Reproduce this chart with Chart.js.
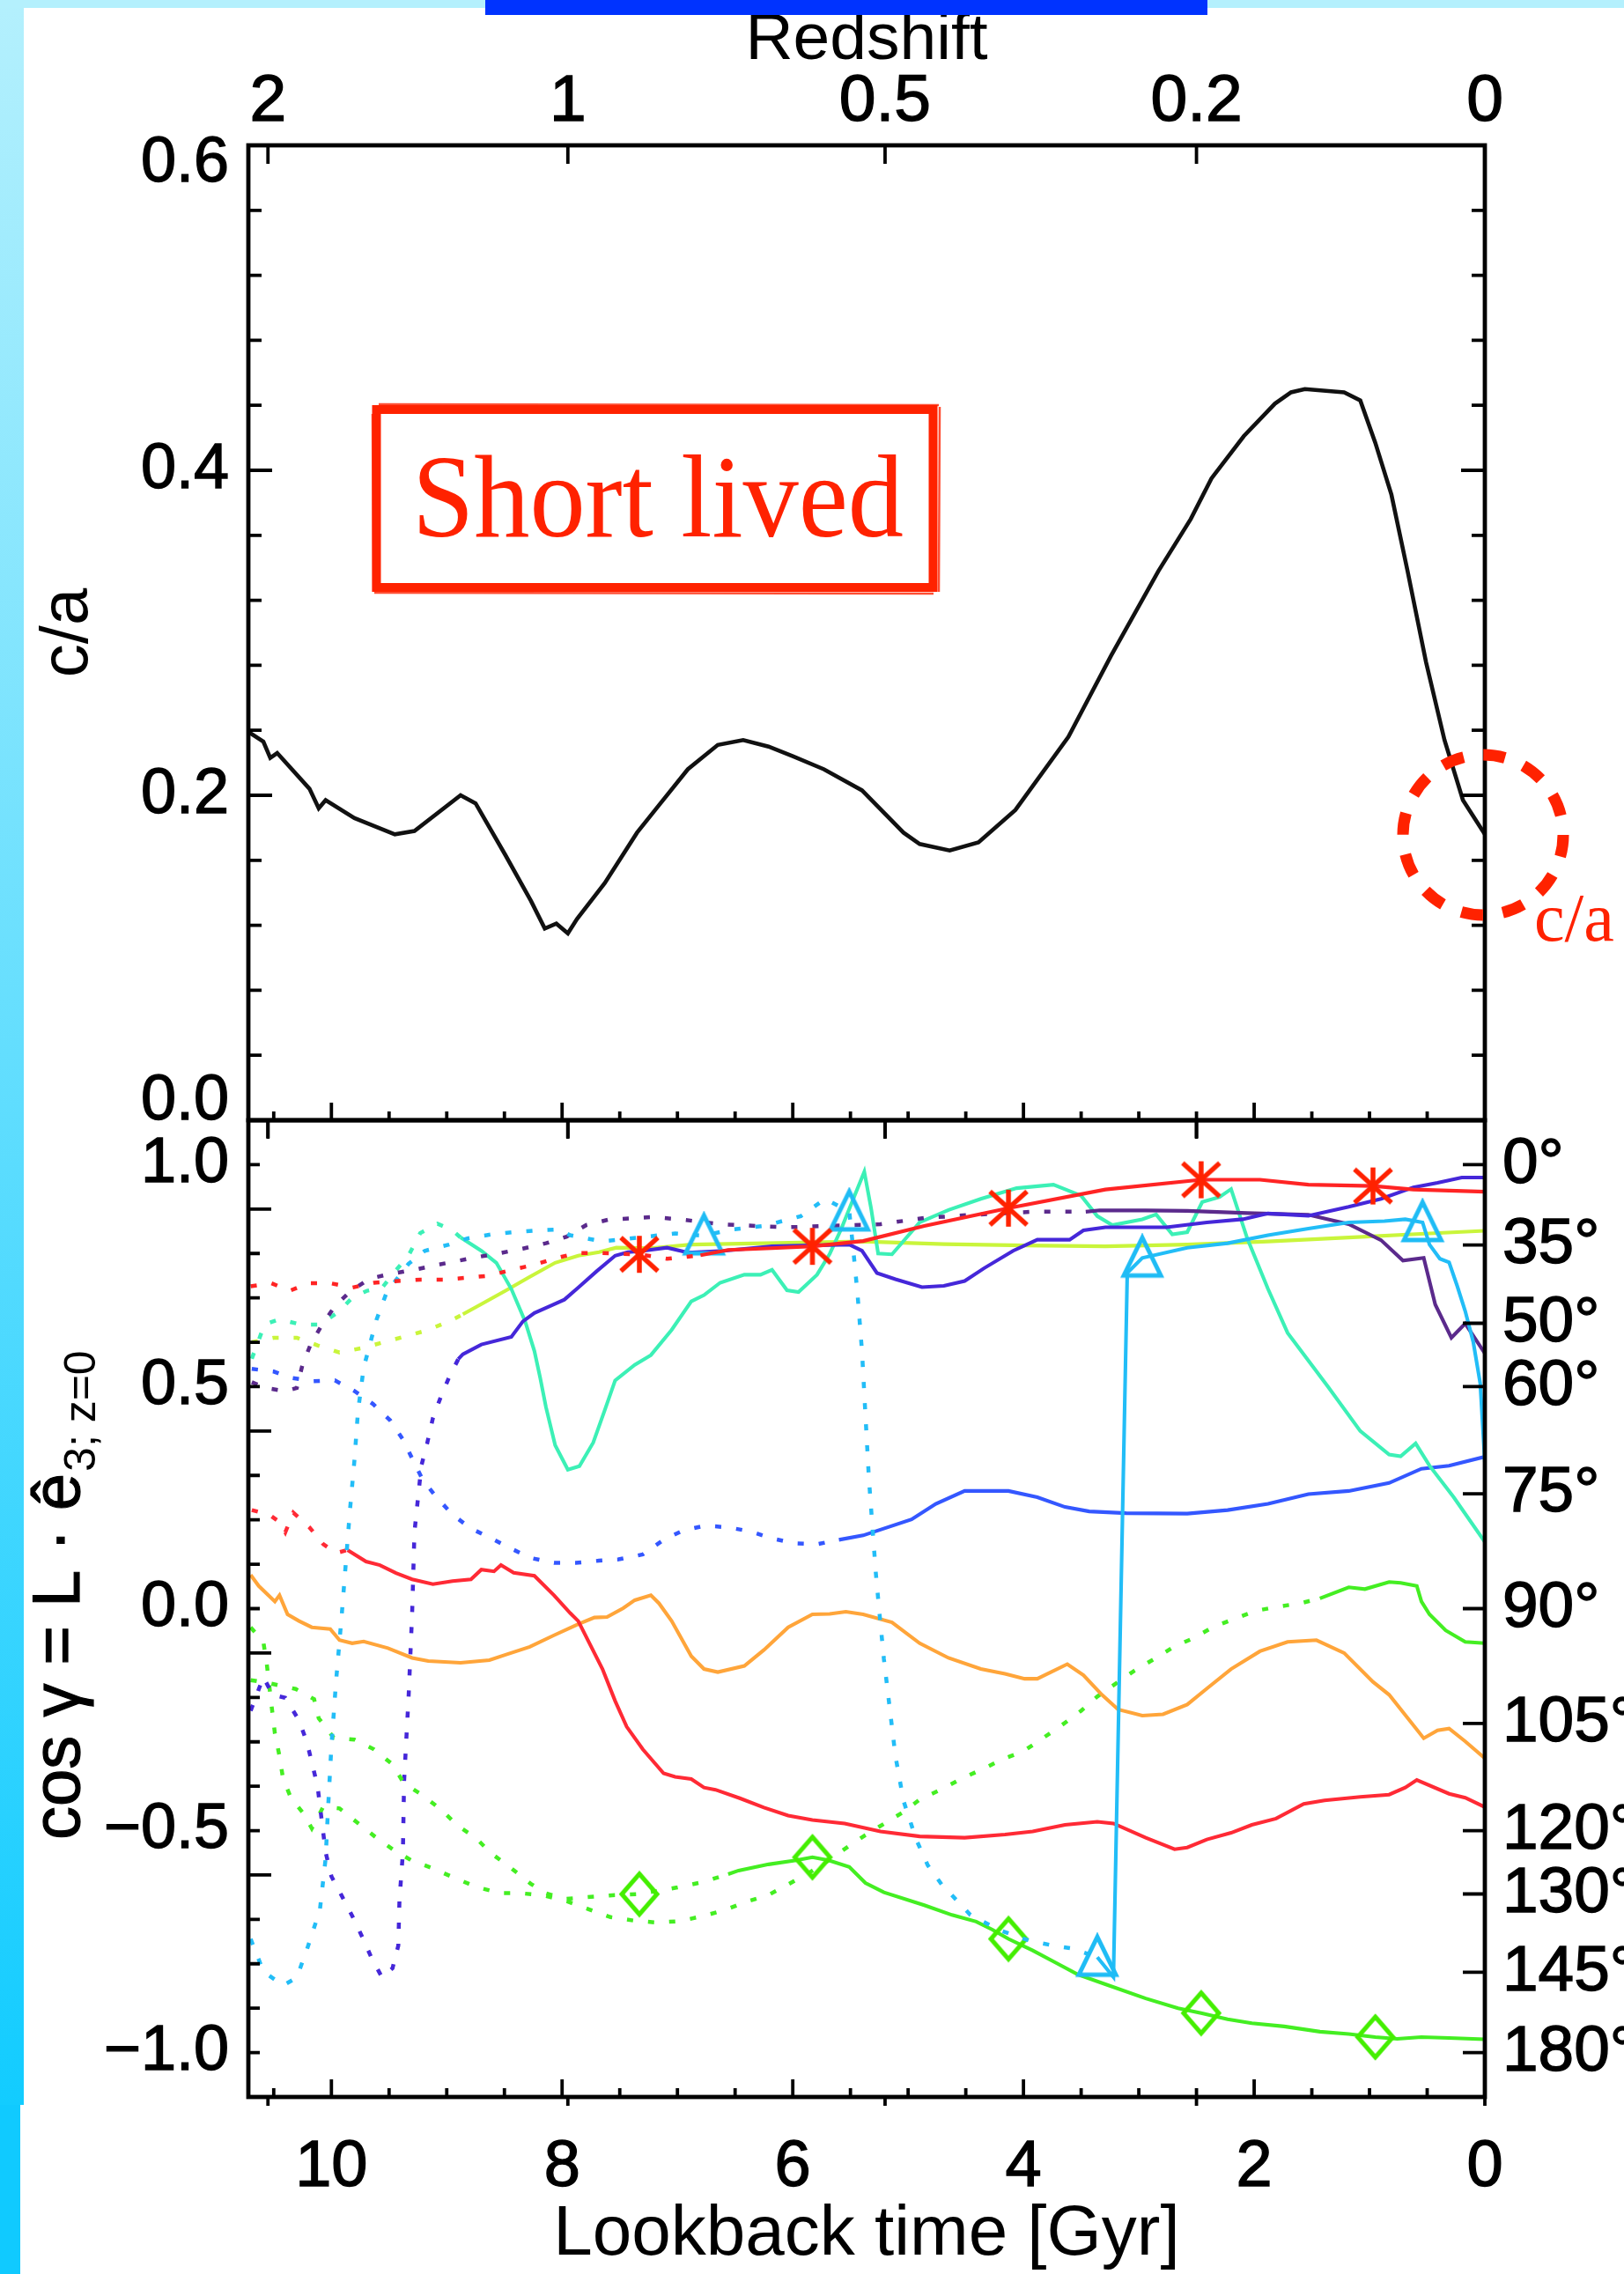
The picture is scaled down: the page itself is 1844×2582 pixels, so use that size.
<!DOCTYPE html>
<html>
<head>
<meta charset="utf-8">
<script src="https://cdn.jsdelivr.net/npm/chart.js@4.4.1/dist/chart.umd.min.js"></script>
<style>
  html, body { margin: 0; padding: 0; background: #fff; }
  #page { position: relative; width: 1844px; height: 2582px; overflow: hidden; background: #fff; }
  #page canvas { position: absolute; left: 0; top: 0; z-index: 1; }
  .edge-left { position: absolute; left: 0; top: 0; width: 27px; height: 2390px; background: linear-gradient(#b4f0fd, #12ccff); z-index: 2; }
  .edge-left-low { position: absolute; left: 0; top: 2390px; width: 23px; height: 192px; background: #10caff; z-index: 2; }
  .edge-top { position: absolute; left: 0; top: 0; width: 1844px; height: 9px; background: #b4f0fd; z-index: 2; }
  .title-bar { position: absolute; left: 551px; top: 0; width: 820px; height: 17px; background: #0033ff; z-index: 3; }
</style>
</head>
<body>
<div id="page">
  <canvas id="shape" width="1844" height="2582"></canvas>
  <canvas id="spin" width="1844" height="2582"></canvas>
  <div class="edge-left"></div>
  <div class="edge-left-low"></div>
  <div class="edge-top"></div>
  <div class="title-bar"></div>
</div>
<script>
// ---- axes ----
const T_MAX = 10.72;                              // lookback time at the left edge [Gyr]
const lookbackTicks = [0, 2, 4, 6, 8, 10];
const redshiftLabels = ['2', '1', '0.5', '0.2', '0'];
const redshiftAt = [10.55, 7.95, 5.20, 2.50, 0];  // lookback time of each redshift tick
const caTicks = [0, 0.2, 0.4, 0.6];
const cosTicks = [-1, -0.5, 0, 0.5, 1];
const angleTicks = [0, 35, 50, 60, 75, 90, 105, 120, 130, 145, 180];

// ---- top panel: axis ratio c/a ----
const caTime = [10.72, 10.59, 10.53, 10.47, 10.19, 10.11, 10.05, 9.80, 9.45, 9.28, 8.88, 8.75, 8.49, 8.27,
  8.15, 8.05, 7.95, 7.87, 7.63, 7.35, 7.17, 6.91, 6.65, 6.43, 6.21, 6.00, 5.73, 5.40, 5.04, 4.90, 4.64,
  4.39, 4.07, 3.61, 3.24, 2.83, 2.55, 2.37, 2.09, 1.82, 1.68, 1.56, 1.22, 1.08, 0.95, 0.81, 0.67, 0.51,
  0.35, 0.19, 0.00];
const caRatio = [0.239, 0.233, 0.223, 0.226, 0.204, 0.192, 0.197, 0.186, 0.176, 0.178, 0.200, 0.195, 0.163,
  0.135, 0.118, 0.121, 0.115, 0.124, 0.146, 0.177, 0.193, 0.216, 0.231, 0.234, 0.230, 0.224, 0.216, 0.203,
  0.177, 0.170, 0.166, 0.171, 0.191, 0.236, 0.286, 0.338, 0.370, 0.395, 0.421, 0.441, 0.448, 0.450, 0.448,
  0.443, 0.417, 0.385, 0.338, 0.282, 0.234, 0.197, 0.176];

// ---- bottom panel: cos gamma, [lookback, value] ----
const redUpper = [[10.70,0.726],[10.52,0.733],[10.36,0.716],[10.20,0.733],[10.01,0.733],[9.82,0.723],[9.63,0.734],
  [9.42,0.738],[9.23,0.741],[9.03,0.741],[8.84,0.745],[8.63,0.750],[8.44,0.763],[8.25,0.774],[8.06,0.789],
  [7.87,0.801],[7.68,0.801],[7.33,0.798],[7.09,0.788],[6.80,0.796],[6.56,0.808],[6.18,0.812],[5.83,0.816],
  [5.39,0.828],[4.86,0.862],[4.13,0.902],[3.29,0.944],[2.46,0.966],[1.95,0.966],[1.53,0.955],[0.97,0.952],
  [0.62,0.944],[0.00,0.939]];
const redUpperMarks = [7.33, 5.83, 4.13, 2.46, 0.97];

const purple = [[10.69,0.510],[10.57,0.497],[10.40,0.490],[10.30,0.497],[10.25,0.550],[10.18,0.595],[10.08,0.640],
  [9.97,0.681],[9.83,0.716],[9.67,0.743],[9.49,0.754],[9.28,0.763],[9.09,0.774],[8.91,0.783],[8.71,0.793],
  [8.53,0.801],[8.34,0.811],[8.14,0.823],[7.96,0.838],[7.79,0.864],[7.60,0.876],[7.21,0.882],[6.95,0.876],
  [6.63,0.866],[6.32,0.862],[6.04,0.859],[5.24,0.866],[4.86,0.880],[4.44,0.887],[3.92,0.894],[3.46,0.894],
  [3.34,0.897],[2.94,0.897],[2.58,0.896],[2.06,0.891],[1.53,0.887],[1.18,0.866],[0.90,0.830],[0.71,0.784],
  [0.53,0.790],[0.43,0.685],[0.29,0.610],[0.17,0.642],[0.00,0.575]];

const violet = [[10.70,-0.230],[10.59,-0.154],[10.51,-0.194],[10.40,-0.201],[10.28,-0.252],[10.21,-0.303],
  [10.12,-0.400],[10.05,-0.549],[10.00,-0.603],[9.91,-0.647],[9.81,-0.697],[9.73,-0.741],[9.65,-0.788],
  [9.56,-0.831],[9.47,-0.810],[9.42,-0.759],[9.41,-0.657],[9.38,-0.549],[9.37,-0.390],[9.33,-0.194],
  [9.30,-0.010],[9.28,0.172],[9.26,0.222],[9.22,0.322],[9.17,0.372],[9.12,0.429],[9.05,0.478],[8.98,0.521],
  [8.90,0.562],[8.86,0.573],[8.70,0.595],[8.44,0.612],[8.34,0.647],[8.24,0.666],[8.09,0.683],[7.98,0.696],
  [7.86,0.723],[7.70,0.760],[7.54,0.795],[7.43,0.803],[7.33,0.805],[7.09,0.813],[6.91,0.802],[6.60,0.806],
  [6.18,0.816],[5.51,0.820],[5.40,0.806],[5.27,0.756],[5.11,0.742],[4.88,0.724],[4.69,0.727],[4.51,0.738],
  [4.34,0.767],[4.09,0.806],[3.88,0.831],[3.60,0.831],[3.48,0.852],[3.29,0.859],[2.76,0.859],[2.41,0.870],
  [2.10,0.877],[1.88,0.890],[1.53,0.885],[1.18,0.905],[0.90,0.923],[0.62,0.949],[0.41,0.959],[0.20,0.971],
  [0.00,0.971]];

const lime = [[10.69,0.600],[10.50,0.610],[10.30,0.610],[10.12,0.593],[9.93,0.577],[9.73,0.587],[9.55,0.600],
  [9.36,0.613],[9.17,0.627],[8.98,0.647],[8.86,0.663],[8.70,0.686],[8.49,0.716],[8.29,0.746],[8.06,0.779],
  [7.86,0.795],[7.68,0.803],[7.53,0.813],[7.23,0.812],[6.88,0.820],[5.39,0.827],[4.69,0.821],[3.99,0.818],
  [3.29,0.816],[2.58,0.820],[1.88,0.827],[1.18,0.836],[0.48,0.845],[0.00,0.851]];

const aqua = [[10.69,0.563],[10.58,0.640],[10.45,0.652],[10.27,0.640],[10.10,0.640],[9.94,0.668],[9.82,0.700],
  [9.69,0.716],[9.56,0.723],[9.46,0.756],[9.33,0.796],[9.23,0.846],[9.08,0.867],[8.95,0.852],[8.88,0.836],
  [8.70,0.806],[8.57,0.779],[8.44,0.720],[8.32,0.647],[8.24,0.580],[8.19,0.520],[8.14,0.454],[8.06,0.368],
  [7.95,0.313],[7.85,0.321],[7.73,0.374],[7.63,0.447],[7.54,0.514],[7.37,0.549],[7.23,0.571],[7.05,0.628],
  [6.88,0.692],[6.77,0.706],[6.63,0.734],[6.42,0.752],[6.28,0.752],[6.18,0.763],[6.05,0.717],[5.95,0.713],
  [5.79,0.752],[5.68,0.799],[5.58,0.855],[5.48,0.920],[5.38,0.984],[5.32,0.900],[5.26,0.800],[5.14,0.798],
  [4.90,0.870],[4.65,0.898],[4.37,0.923],[4.06,0.947],[3.74,0.955],[3.50,0.930],[3.36,0.884],[3.23,0.864],
  [2.97,0.877],[2.85,0.888],[2.71,0.843],[2.58,0.848],[2.45,0.916],[2.30,0.927],[2.20,0.945],[2.06,0.834],
  [1.88,0.720],[1.71,0.621],[1.36,0.500],[1.08,0.400],[0.83,0.347],[0.73,0.343],[0.60,0.372],[0.48,0.322],
  [0.27,0.251],[0.00,0.150]];

const cyan = [[10.70,-0.744],[10.59,-0.817],[10.42,-0.849],[10.30,-0.831],[10.21,-0.766],[10.10,-0.679],
  [10.05,-0.563],[10.03,-0.455],[10.00,-0.310],[9.96,-0.165],[9.91,-0.013],[9.84,0.219],[9.80,0.335],
  [9.77,0.443],[9.72,0.543],[9.61,0.650],[9.52,0.713],[9.33,0.777],[9.19,0.806],[8.98,0.820],[8.82,0.834],
  [8.61,0.843],[8.42,0.848],[8.21,0.852],[8.03,0.854],[7.93,0.841],[7.65,0.827],[7.26,0.838],[7.02,0.845],
  [6.77,0.840],[6.53,0.854],[6.25,0.862],[5.93,0.884],[5.72,0.923],[5.51,0.894],[5.48,0.820],[5.44,0.713],
  [5.40,0.580],[5.37,0.436],[5.34,0.293],[5.28,0.080],[5.25,-0.006],[5.21,-0.114],[5.16,-0.223],[5.11,-0.332],
  [5.04,-0.433],[4.93,-0.520],[4.83,-0.578],[4.71,-0.621],[4.55,-0.665],[4.46,-0.690],[4.20,-0.725],
  [3.95,-0.748],[3.74,-0.759],[3.57,-0.766],[3.36,-0.785],[3.22,-0.830],[3.10,0.756],[2.97,0.790],
  [2.58,0.813],[2.23,0.823],[1.88,0.841],[1.53,0.856],[1.18,0.870],[0.87,0.873],[0.69,0.877],[0.54,0.870],
  [0.48,0.820],[0.39,0.788],[0.31,0.780],[0.24,0.727],[0.17,0.670],[0.10,0.600],[0.04,0.507],[0.00,0.330]];
const cyanMarks = [6.77, 5.51, 3.36, 2.97, 0.54];

const blue = [[10.69,0.540],[10.50,0.534],[10.35,0.520],[10.16,0.512],[9.97,0.514],[9.80,0.490],[9.64,0.461],
  [9.49,0.424],[9.38,0.381],[9.30,0.338],[9.21,0.291],[9.09,0.251],[8.95,0.212],[8.80,0.182],[8.62,0.159],
  [8.44,0.135],[8.27,0.114],[8.07,0.103],[7.88,0.103],[7.68,0.108],[7.51,0.111],[7.30,0.122],[7.12,0.155],
  [6.95,0.176],[6.76,0.187],[6.56,0.183],[6.37,0.174],[6.18,0.158],[5.98,0.147],[5.79,0.145],[5.60,0.155],
  [5.39,0.165],[4.97,0.201],[4.76,0.236],[4.51,0.265],[4.13,0.265],[3.88,0.251],[3.64,0.229],[3.43,0.219],
  [3.11,0.215],[2.58,0.214],[2.23,0.222],[1.88,0.236],[1.53,0.258],[1.18,0.265],[0.83,0.283],[0.55,0.315],
  [0.31,0.322],[0.00,0.342]];

const redLower = [[10.69,0.222],[10.54,0.212],[10.45,0.195],[10.40,0.172],[10.33,0.216],[10.19,0.183],
  [10.07,0.145],[9.96,0.125],[9.86,0.132],[9.70,0.106],[9.58,0.098],[9.44,0.080],[9.30,0.066],[9.12,0.055],
  [8.95,0.062],[8.79,0.066],[8.70,0.088],[8.59,0.084],[8.53,0.098],[8.42,0.081],[8.24,0.074],[8.07,0.030],
  [7.93,-0.010],[7.86,-0.028],[7.65,-0.136],[7.54,-0.208],[7.44,-0.266],[7.30,-0.317],[7.12,-0.371],
  [7.02,-0.379],[6.88,-0.384],[6.77,-0.403],[6.67,-0.408],[6.46,-0.427],[6.25,-0.448],[6.04,-0.466],
  [5.83,-0.476],[5.55,-0.484],[5.24,-0.502],[4.90,-0.513],[4.51,-0.516],[4.16,-0.509],[3.92,-0.502],
  [3.64,-0.487],[3.36,-0.480],[3.22,-0.484],[2.94,-0.516],[2.69,-0.542],[2.58,-0.538],[2.41,-0.520],
  [2.20,-0.505],[2.02,-0.487],[1.81,-0.473],[1.57,-0.440],[1.39,-0.432],[1.08,-0.424],[0.83,-0.419],
  [0.69,-0.403],[0.59,-0.386],[0.31,-0.417],[0.17,-0.426],[0.00,-0.447]];

const orange = [[10.70,0.076],[10.63,0.051],[10.49,0.016],[10.45,0.030],[10.38,-0.013],[10.28,-0.028],
  [10.17,-0.042],[10.01,-0.046],[9.93,-0.071],[9.82,-0.078],[9.72,-0.074],[9.51,-0.089],[9.30,-0.111],
  [9.16,-0.118],[8.88,-0.122],[8.63,-0.116],[8.49,-0.104],[8.28,-0.086],[8.07,-0.060],[7.86,-0.035],
  [7.72,-0.020],[7.61,-0.019],[7.47,0.001],[7.37,0.019],[7.23,0.030],[7.16,0.012],[7.05,-0.028],
  [6.88,-0.107],[6.77,-0.136],[6.65,-0.143],[6.42,-0.129],[6.25,-0.093],[6.04,-0.042],[5.83,-0.013],
  [5.68,-0.012],[5.54,-0.007],[5.39,-0.013],[5.14,-0.031],[4.90,-0.078],[4.65,-0.111],[4.37,-0.136],
  [4.16,-0.147],[3.99,-0.158],[3.88,-0.158],[3.62,-0.125],[3.48,-0.150],[3.32,-0.194],[3.18,-0.227],
  [2.97,-0.241],[2.79,-0.238],[2.58,-0.216],[2.41,-0.180],[2.20,-0.136],[1.95,-0.096],[1.71,-0.075],
  [1.46,-0.071],[1.22,-0.100],[0.97,-0.165],[0.83,-0.194],[0.53,-0.292],[0.41,-0.274],[0.31,-0.270],
  [0.17,-0.299],[0.00,-0.337]];

const greenUpper = [[10.70,-0.161],[10.52,-0.169],[10.31,-0.181],[10.15,-0.204],[10.11,-0.247],[9.98,-0.291],
  [9.80,-0.295],[9.63,-0.317],[9.47,-0.351],[9.37,-0.394],[9.21,-0.420],[9.04,-0.455],[8.90,-0.490],
  [8.75,-0.516],[8.62,-0.550],[8.44,-0.585],[8.27,-0.620],[8.14,-0.641],[7.98,-0.654],[7.79,-0.650],
  [7.59,-0.646],[7.33,-0.643],[7.00,-0.628],[6.78,-0.616],[6.56,-0.598],[6.47,-0.590],[6.21,-0.576],
  [5.97,-0.567],[5.83,-0.560],[5.69,-0.567],[5.51,-0.582],[5.37,-0.618],[5.21,-0.639],[4.86,-0.668],
  [4.62,-0.690],[4.41,-0.705],[4.27,-0.723],[4.13,-0.744],[3.92,-0.770],[3.71,-0.799],[3.53,-0.824],
  [3.29,-0.846],[2.94,-0.878],[2.66,-0.900],[2.46,-0.911],[2.23,-0.925],[2.02,-0.934],[1.74,-0.941],
  [1.43,-0.953],[1.18,-0.958],[0.95,-0.965],[0.76,-0.969],[0.55,-0.965],[0.31,-0.967],[0.00,-0.970]];
const greenUpperMarks = [7.33, 5.83, 4.13, 2.46, 0.95];

const greenLower = [[10.70,-0.042],[10.59,-0.075],[10.56,-0.125],[10.52,-0.216],[10.49,-0.281],[10.45,-0.332],
  [10.42,-0.382],[10.35,-0.427],[10.24,-0.462],[10.17,-0.495],[10.07,-0.446],[9.93,-0.450],[9.78,-0.481],
  [9.63,-0.512],[9.47,-0.542],[9.30,-0.568],[9.12,-0.585],[8.93,-0.607],[8.73,-0.628],[8.53,-0.641],
  [8.36,-0.641],[8.16,-0.646],[7.96,-0.659],[7.77,-0.677],[7.58,-0.695],[7.37,-0.703],[7.18,-0.707],
  [6.98,-0.704],[6.77,-0.692],[6.58,-0.678],[6.40,-0.660],[6.21,-0.645],[6.04,-0.621],[5.84,-0.592],
  [5.69,-0.567],[5.51,-0.534],[5.37,-0.510],[5.25,-0.491],[5.04,-0.458],[4.90,-0.430],[4.72,-0.408],
  [4.53,-0.382],[4.35,-0.361],[4.18,-0.339],[4.00,-0.321],[3.85,-0.295],[3.67,-0.263],[3.50,-0.230],
  [3.36,-0.198],[3.20,-0.169],[3.04,-0.140],[2.87,-0.114],[2.69,-0.085],[2.53,-0.067],[2.36,-0.042],
  [2.18,-0.024],[1.99,-0.005],[1.78,0.005],[1.60,0.012],[1.43,0.023],[1.18,0.048],[1.04,0.044],[0.83,0.060],
  [0.73,0.058],[0.59,0.051],[0.55,0.016],[0.48,-0.013],[0.34,-0.049],[0.17,-0.075],[0.00,-0.078]];

const SANS = '"Liberation Sans", Arial, Helvetica, sans-serif';
const SERIF = '"Liberation Serif", "Times New Roman", serif';
const RED_NOTE = '#ff2200';

// open plot symbols, drawn once and handed to Chart.js as point styles
function symbol(size, draw) {
  const c = document.createElement('canvas');
  c.width = size; c.height = size;
  const g = c.getContext('2d');
  draw(g, size / 2);
  return c;
}
const asterisk = symbol(52, (g, c) => {
  g.strokeStyle = '#ff2200'; g.lineWidth = 5.5; g.beginPath();
  g.moveTo(c, c - 21); g.lineTo(c, c + 21);
  g.moveTo(c - 21, c - 19); g.lineTo(c + 21, c + 19);
  g.moveTo(c + 21, c - 19); g.lineTo(c - 21, c + 19);
  g.stroke();
});
const triangle = symbol(56, (g, c) => {
  g.strokeStyle = '#1fbcf5'; g.lineWidth = 5; g.lineJoin = 'miter'; g.beginPath();
  g.moveTo(c, c - 23); g.lineTo(c + 21, c + 20); g.lineTo(c - 21, c + 20); g.closePath(); g.stroke();
});
const diamond = symbol(56, (g, c) => {
  g.strokeStyle = '#44ee00'; g.lineWidth = 5; g.beginPath();
  g.moveTo(c, c - 23); g.lineTo(c + 20, c); g.lineTo(c, c + 23); g.lineTo(c - 20, c); g.closePath(); g.stroke();
});

// one track: dotted while the lookback time is at or above dottedFrom
function track(points, color, dottedFrom, marks, style) {
  const dotted = ctx => ctx.p1.parsed.x >= dottedFrom - 1e-6;
  return {
    data: points.map(([x, y]) => ({ x, y })),
    xAxisID: 'x', yAxisID: 'y',
    borderColor: color, borderWidth: 4.1, tension: 0, borderCapStyle: 'butt',
    pointStyle: style || 'circle',
    pointRadius: ctx => (marks && ctx.raw && marks.includes(ctx.raw.x)) ? 22 : 0,
    pointHoverRadius: ctx => (marks && ctx.raw && marks.includes(ctx.raw.x)) ? 22 : 0,
    segment: {
      borderDash: ctx => dotted(ctx) ? [7, 17] : undefined,
      borderWidth: ctx => dotted(ctx) ? 4.5 : undefined,
    },
  };
}

const fmt = v => v.toFixed(1).replace('-', '\u2212');

// labels at the ends of a vertical axis sit just inside the box
function edgeLabel(text, pos) {
  if (pos === 'top') return ['', text];
  if (pos === 'bottom') return [text, ''];
  return text;
}

// box, ticks on all four sides, redshift marks
const frame = {
  id: 'frame',
  afterDatasetsDraw(chart, args, o) {
    const { ctx, chartArea: a } = chart;
    const px = v => chart.scales.x.getPixelForValue(v);
    const py = v => chart.scales.y.getPixelForValue(v);
    ctx.save();
    ctx.strokeStyle = '#000';
    ctx.lineCap = 'butt';
    ctx.lineWidth = 3.8;
    ctx.beginPath();
    for (let k = 0; k <= o.yCount; k++) {
      const v = o.yFrom + k * o.yStep;
      const major = k % o.yMajorEvery === 0;
      const len = major ? o.yMajorLen : o.yMinorLen;
      ctx.moveTo(a.left, py(v)); ctx.lineTo(a.left + len, py(v));
      if (!o.rightAt) { ctx.moveTo(a.right, py(v)); ctx.lineTo(a.right - len, py(v)); }
    }
    if (o.rightAt) {
      for (const v of o.rightAt) { ctx.moveTo(a.right, py(v)); ctx.lineTo(a.right - 25, py(v)); }
    }
    for (let k = 0; k <= 21; k++) {
      const t = k * 0.5;
      const len = k % 4 === 0 ? 20 : 10;
      ctx.moveTo(px(t), a.bottom); ctx.lineTo(px(t), a.bottom - len);
    }
    for (const t of redshiftAt) {
      ctx.moveTo(px(t), a.top); ctx.lineTo(px(t), a.top + 21);
      ctx.moveTo(px(t), a.bottom); ctx.lineTo(px(t), a.bottom + o.zBelow);
    }
    ctx.stroke();
    ctx.lineWidth = 4.8;
    ctx.strokeRect(a.left, a.top, a.right - a.left, a.bottom - a.top);
    ctx.restore();
  },
};

// "Short lived" note and the marked present-day c/a value
const noteTop = {
  id: 'noteTop',
  afterDraw(chart) {
    const { ctx } = chart;
    ctx.save();
    ctx.strokeStyle = RED_NOTE;
    ctx.fillStyle = RED_NOTE;
    ctx.lineWidth = 10;
    ctx.strokeRect(427.5, 465, 632, 202);
    ctx.lineWidth = 2.5;
    ctx.globalAlpha = 0.8;
    ctx.beginPath();
    ctx.moveTo(430, 459); ctx.lineTo(1066, 460);
    ctx.moveTo(423, 470); ctx.lineTo(424, 672);
    ctx.moveTo(1067, 462); ctx.lineTo(1066, 672);
    ctx.moveTo(425, 673); ctx.lineTo(1060, 674);
    ctx.stroke();
    ctx.globalAlpha = 1;
    ctx.font = `133px ${SERIF}`;
    ctx.textBaseline = 'alphabetic';
    const w = ctx.measureText('Short lived').width;
    ctx.translate(468, 609);
    ctx.scale(558 / w, 1);
    ctx.fillText('Short lived', 0, 0);
    ctx.setTransform(1, 0, 0, 1, 0, 0);
    ctx.lineWidth = 13;
    ctx.setLineDash([25, 22.6]);
    ctx.beginPath();
    ctx.arc(1684, 948, 91, 0, Math.PI * 2);
    ctx.stroke();
    ctx.setLineDash([]);
    ctx.font = `78px ${SERIF}`;
    ctx.fillText('c/a', 1742, 1068);
    ctx.restore();
  },
};

// rotated y title with the subscript
const cosTitle = {
  id: 'cosTitle',
  afterDraw(chart) {
    const { ctx } = chart;
    ctx.save();
    ctx.fillStyle = '#000';
    ctx.strokeStyle = '#000';
    ctx.lineWidth = 1.2;
    ctx.translate(90, 2089);
    ctx.rotate(-Math.PI / 2);
    ctx.textBaseline = 'alphabetic';
    ctx.font = `76px ${SANS}`;
    const main = 'cos \u03b3 = L \u00b7 \u00ea';
    ctx.fillText(main, 0, 0);
    ctx.strokeText(main, 0, 0);
    const w = ctx.measureText(main).width;
    ctx.font = `50px ${SANS}`;
    ctx.fillText('3; z=0', w + 2, 18);
    ctx.restore();
  },
};

const flat = { display: false, drawTicks: false };
const ink = { color: '#000', textStrokeColor: '#000', textStrokeWidth: 1.4 };

new Chart(document.getElementById('shape'), {
  type: 'line',
  data: {
    datasets: [{
      data: caTime.map((t, i) => ({ x: t, y: caRatio[i] })),
      xAxisID: 'x', yAxisID: 'y',
      borderColor: '#111', borderWidth: 4.6, pointRadius: 0, tension: 0,
    }],
  },
  options: {
    responsive: false, animation: false, events: [],
    layout: { autoPadding: false, padding: { left: 0, top: 0, right: 158, bottom: 1310 } },
    plugins: {
      legend: { display: false }, tooltip: { enabled: false },
      frame: { yFrom: 0, yStep: 0.04, yCount: 15, yMajorEvery: 5, yMajorLen: 27, yMinorLen: 15, zBelow: 20 },
    },
    scales: {
      x: { type: 'linear', axis: 'x', min: 0, max: T_MAX, reverse: true, display: false },
      zTop: {
        type: 'linear', axis: 'x', position: 'top', min: 0, max: T_MAX, reverse: true,
        afterBuildTicks: s => { s.ticks = redshiftAt.map(v => ({ value: v })); },
        afterFit: s => { s.height = 165; },
        grid: flat, border: { display: false },
        ticks: { ...ink, callback: (v, i) => redshiftLabels[i], padding: 4, autoSkip: false, maxRotation: 0,
          font: { family: SANS, size: 75 } },
        title: { display: true, text: 'Redshift', color: '#000', padding: { top: 9, bottom: 0 },
          font: { family: SANS, size: 75, lineHeight: 1 } },
      },
      y: {
        type: 'linear', position: 'left', min: 0, max: 0.6,
        afterBuildTicks: s => { s.ticks = caTicks.map(v => ({ value: v })); },
        afterFit: s => { s.width = 282; },
        grid: flat, border: { display: false },
        ticks: { ...ink, padding: 22, autoSkip: false,
          callback: v => edgeLabel(fmt(v), v >= 0.6 ? 'top' : v <= 0 ? 'bottom' : ''),
          font: { family: SANS, size: 72, lineHeight: 0.58 } },
        title: { display: true, text: 'c/a', color: '#000', padding: { top: 40, bottom: 0 },
          font: { family: SANS, size: 76, lineHeight: 1 } },
      },
    },
  },
  plugins: [frame, noteTop],
});

new Chart(document.getElementById('spin'), {
  type: 'line',
  data: {
    datasets: [
      track(redUpper, '#ff2424', 6.6, redUpperMarks, asterisk),
      track(cyan, '#22bdf7', 3.36, cyanMarks, triangle),
      track(greenUpper, '#44ee22', 6.5, greenUpperMarks, diamond),
      track(violet, '#4527d9', 8.9),
      track(purple, '#5b2a8c', 3.35),
      track(aqua, '#3cf0b6', 8.88),
      track(lime, '#c9f53b', 8.86),
      track(blue, '#3457ff', 5.6),
      track(redLower, '#ff2a35', 9.86),
      track(orange, '#ffa53a', Infinity),
      track(greenLower, '#44ee22', 1.43),
    ],
  },
  options: {
    responsive: false, animation: false, events: [],
    layout: { autoPadding: false, padding: { left: 0, top: 1272, right: 0, bottom: 0 } },
    plugins: {
      legend: { display: false }, tooltip: { enabled: false },
      frame: { yFrom: -1.1, yStep: 0.1, yCount: 22, yMajorEvery: 5, yMajorLen: 26, yMinorLen: 13, zBelow: 10,
        rightAt: angleTicks.map(a => Math.cos(a * Math.PI / 180)) },
    },
    scales: {
      x: {
        type: 'linear', axis: 'x', position: 'bottom', min: 0, max: T_MAX, reverse: true,
        afterBuildTicks: s => { s.ticks = lookbackTicks.map(v => ({ value: v })); },
        afterFit: s => { s.height = 201; },
        grid: flat, border: { display: false },
        ticks: { ...ink, callback: v => String(v), padding: 36, autoSkip: false, maxRotation: 0,
          font: { family: SANS, size: 74 } },
        title: { display: true, text: 'Lookback time [Gyr]', color: '#000', padding: { top: 0, bottom: 4 },
          font: { family: SANS, size: 80, lineHeight: 1 } },
      },
      y: {
        type: 'linear', position: 'left', min: -1.1, max: 1.1,
        afterBuildTicks: s => { s.ticks = cosTicks.map(v => ({ value: v })); },
        afterFit: s => { s.width = 282; },
        grid: flat, border: { display: false },
        ticks: { ...ink, callback: v => fmt(v), padding: 22, autoSkip: false,
          font: { family: SANS, size: 72 } },
      },
      angle: {
        type: 'linear', axis: 'y', position: 'right', min: -1.1, max: 1.1,
        afterBuildTicks: s => { s.ticks = angleTicks.map(a => ({ value: Math.cos(a * Math.PI / 180) })); },
        afterFit: s => { s.width = 158; },
        grid: flat, border: { display: false },
        ticks: { ...ink, callback: (v, i) => angleTicks[i] + '\u00b0', padding: 20, autoSkip: false,
          font: { family: SANS, size: 73 } },
      },
    },
  },
  plugins: [frame, cosTitle],
});
</script>
</body>
</html>
